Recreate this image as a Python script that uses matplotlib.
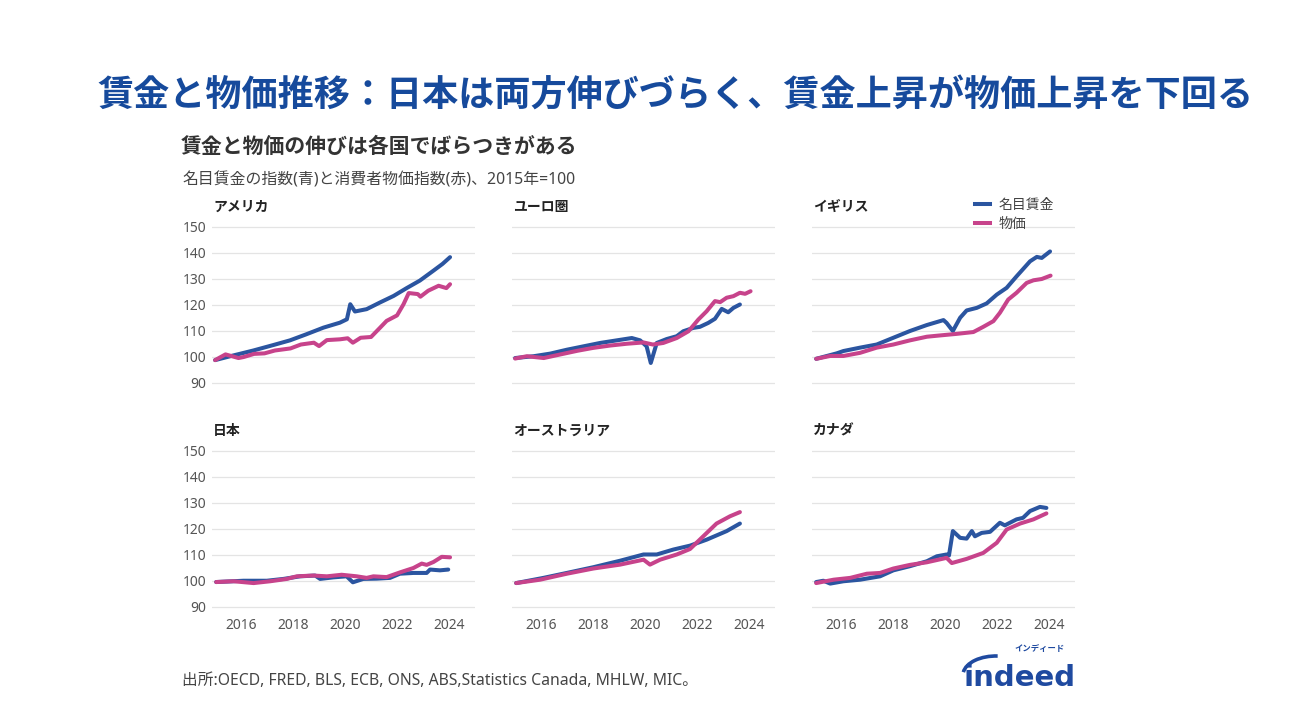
import matplotlib
matplotlib.use('Agg')
import matplotlib.pyplot as plt
from matplotlib.patches import Arc
from matplotlib.lines import Line2D

plt.rcParams['font.family'] = ['Noto Sans', 'Noto Sans CJK JP', 'DejaVu Sans']

WAGE_COLOR = '#2b55a0'
PRICE_COLOR = '#c7438b'
TITLE_COLOR = '#164a9c'
LOGO_COLOR = '#1f4aa0'

countries = ['アメリカ', 'ユーロ圏', 'イギリス', '日本', 'オーストラリア', 'カナダ']

# (year, index) pairs, 2015 = 100
us_wage = [(2015.0, 98.8), (2015.7, 100.6), (2016.47, 102.5), (2017.24, 104.6), (2017.88, 106.4),
           (2018.5, 108.7), (2019.17, 111.3), (2019.8, 113.2), (2020.07, 114.5), (2020.2, 120.3),
           (2020.38, 117.5), (2020.83, 118.4), (2021.35, 121.0), (2021.87, 123.5), (2022.37, 126.5),
           (2022.88, 129.4), (2023.4, 133.2), (2023.75, 135.8), (2024.04, 138.4)]
us_price = [(2015.0, 98.8), (2015.4, 101.0), (2015.9, 99.6), (2016.1, 100.0), (2016.5, 101.2),
            (2016.9, 101.4), (2017.3, 102.5), (2017.9, 103.3), (2018.3, 104.8), (2018.8, 105.5),
            (2019.0, 104.2), (2019.3, 106.5), (2019.8, 106.8), (2020.1, 107.2), (2020.3, 105.5),
            (2020.6, 107.4), (2021.0, 107.7), (2021.35, 111.3), (2021.6, 113.9), (2022.0, 116.0),
            (2022.25, 120.3), (2022.45, 124.6), (2022.8, 124.2), (2022.9, 123.2), (2023.2, 125.5),
            (2023.6, 127.4), (2023.9, 126.5), (2024.04, 128.0)]

eu_wage = [(2015.0, 99.6), (2015.71, 100.3), (2016.35, 101.3), (2016.99, 102.8), (2017.63, 104.1),
           (2018.27, 105.4), (2018.91, 106.4), (2019.49, 107.3), (2019.81, 106.4), (2020.06, 104.1),
           (2020.22, 97.7), (2020.45, 105.4), (2020.83, 106.9), (2021.22, 108.0), (2021.47, 109.9),
           (2021.86, 111.2), (2022.11, 111.6), (2022.43, 113.1), (2022.69, 114.7), (2022.95, 118.5),
           (2023.2, 117.2), (2023.4, 118.9), (2023.65, 120.2)]
eu_price = [(2015.0, 99.4), (2015.45, 100.3), (2016.1, 99.6), (2016.7, 100.9), (2017.4, 102.4),
            (2018.0, 103.5), (2018.65, 104.4), (2019.3, 105.1), (2019.94, 105.6), (2020.3, 104.8),
            (2020.7, 105.4), (2021.22, 107.3), (2021.67, 109.9), (2022.05, 114.4), (2022.37, 117.6),
            (2022.69, 121.5), (2022.89, 121.1), (2023.14, 122.8), (2023.4, 123.4), (2023.65, 124.7),
            (2023.85, 124.3), (2024.06, 125.3)]

uk_wage = [(2015.04, 99.3), (2015.83, 101.4), (2016.09, 102.3), (2016.73, 103.6), (2017.37, 104.8),
           (2018.01, 107.4), (2018.65, 110.0), (2019.3, 112.3), (2019.94, 114.2), (2020.06, 113.1),
           (2020.3, 110.0), (2020.58, 115.1), (2020.83, 117.9), (2021.22, 118.9), (2021.6, 120.6),
           (2021.99, 124.0), (2022.37, 126.6), (2022.75, 131.0), (2023.27, 136.8), (2023.53, 138.5),
           (2023.72, 138.1), (2024.04, 140.6)]
uk_price = [(2015.04, 99.3), (2015.58, 100.4), (2016.09, 100.4), (2016.73, 101.6), (2017.37, 103.6),
            (2018.01, 104.8), (2018.65, 106.4), (2019.3, 107.8), (2019.81, 108.3), (2020.45, 108.9),
            (2021.09, 109.6), (2021.47, 111.6), (2021.86, 113.8), (2022.11, 117.0), (2022.43, 122.1),
            (2022.75, 124.7), (2023.14, 128.5), (2023.4, 129.5), (2023.72, 130.0), (2024.06, 131.3)]

jp_wage = [(2015.04, 99.6), (2016.09, 100.1), (2016.99, 100.1), (2017.63, 100.8), (2018.27, 101.8),
           (2018.85, 102.1), (2019.04, 100.8), (2019.55, 101.4), (2020.06, 101.8), (2020.3, 99.5),
           (2020.7, 100.8), (2021.22, 100.9), (2021.73, 101.2), (2022.11, 102.8), (2022.63, 103.1),
           (2023.14, 103.1), (2023.27, 104.4), (2023.65, 104.1), (2023.97, 104.4)]
jp_price = [(2015.04, 99.6), (2015.71, 99.9), (2016.48, 99.2), (2017.12, 99.9), (2017.76, 100.8),
            (2018.14, 101.8), (2018.78, 102.1), (2019.3, 101.8), (2019.87, 102.4), (2020.45, 101.8),
            (2020.83, 101.2), (2021.09, 101.8), (2021.6, 101.5), (2022.11, 103.3), (2022.63, 105.0),
            (2022.95, 106.7), (2023.14, 106.2), (2023.4, 107.3), (2023.72, 109.3), (2024.04, 109.1)]

au_wage = [(2015.04, 99.2), (2016.09, 101.2), (2016.99, 103.1), (2018.01, 105.3), (2019.04, 107.8),
           (2019.94, 110.2), (2020.45, 110.2), (2021.09, 112.1), (2021.73, 113.6), (2022.37, 115.9),
           (2023.14, 119.2), (2023.65, 122.1)]
au_price = [(2015.04, 99.2), (2015.96, 100.5), (2016.99, 102.8), (2018.01, 104.8), (2019.04, 106.3),
            (2019.94, 108.2), (2020.19, 106.3), (2020.58, 108.2), (2021.22, 110.2), (2021.73, 112.3),
            (2022.24, 117.2), (2022.75, 122.1), (2023.27, 124.9), (2023.65, 126.5)]

ca_wage = [(2015.04, 99.6), (2015.32, 100.1), (2015.58, 99.0), (2016.09, 99.9), (2016.73, 100.5),
           (2017.5, 101.8), (2018.01, 104.1), (2018.65, 105.7), (2019.3, 107.6), (2019.68, 109.5),
           (2020.06, 110.2), (2020.15, 109.8), (2020.3, 119.2), (2020.58, 116.6), (2020.83, 116.3),
           (2021.03, 119.2), (2021.15, 117.2), (2021.41, 118.5), (2021.73, 118.9), (2022.11, 122.4),
           (2022.3, 121.4), (2022.75, 123.7), (2023.0, 124.3), (2023.27, 126.9), (2023.65, 128.5),
           (2023.9, 128.1)]
ca_price = [(2015.04, 99.2), (2015.71, 100.5), (2016.35, 101.2), (2016.99, 102.8), (2017.5, 103.1),
            (2018.01, 104.8), (2018.65, 106.2), (2019.3, 107.2), (2020.06, 108.9), (2020.26, 106.9),
            (2020.83, 108.5), (2021.47, 110.8), (2021.99, 114.7), (2022.37, 119.8), (2022.89, 122.1),
            (2023.4, 123.7), (2023.9, 126.0)]

wages = [us_wage, eu_wage, uk_wage, jp_wage, au_wage, ca_wage]
prices = [us_price, eu_price, uk_price, jp_price, au_price, ca_price]

y_ticks = [90, 100, 110, 120, 130, 140, 150]
x_ticks = [2016, 2018, 2020, 2022, 2024]


def draw_panel(ax, name, wage, price, show_y, show_x):
    for g in y_ticks:
        ax.axhline(g, color='#e4e4e4', lw=0.9, zorder=0)
    wx, wy = zip(*wage)
    px, py = zip(*price)
    ax.plot(wx, wy, color=WAGE_COLOR, lw=2.9, solid_capstyle='round', solid_joinstyle='round')
    ax.plot(px, py, color=PRICE_COLOR, lw=2.9, solid_capstyle='round', solid_joinstyle='round')
    ax.set_xlim(2014.88, 2025.0)
    ax.set_ylim(89, 151)
    ax.set_yticks(y_ticks)
    ax.set_xticks(x_ticks)
    ax.tick_params(length=0, labelsize=10, labelcolor='#555555')
    ax.tick_params(axis='y', pad=4)
    ax.tick_params(axis='x', pad=6)
    if not show_y:
        ax.set_yticklabels([])
    if not show_x:
        ax.set_xticklabels([])
    for s in ax.spines.values():
        s.set_visible(False)
    ax.set_title(name, loc='left', fontsize=10, fontweight='bold', color='#222222', pad=10, x=0.005)


def main():
    W, H = 1295, 723
    fig = plt.figure(figsize=(W / 100, H / 100), dpi=100)

    lefts = [212, 512, 812]
    tops = [224.4, 448.4]
    w, h = 263, 161.2
    for i, name in enumerate(countries):
        r, c = divmod(i, 3)
        ax = fig.add_axes([lefts[c] / W, 1 - (tops[r] + h) / H, w / W, h / H])
        draw_panel(ax, name, wages[i], prices[i], c == 0, r == 1)

    # overlay in pixel coordinates for titles, notes and logo
    ov = fig.add_axes([0, 0, 1, 1])
    ov.set_xlim(0, W)
    ov.set_ylim(H, 0)
    ov.axis('off')

    ov.text(97, 98, '賃金と物価推移：日本は両方伸びづらく、賃金上昇が物価上昇を下回る',
            fontsize=26, fontweight='bold', color=TITLE_COLOR, va='center', ha='left')
    ov.text(181, 147, '賃金と物価の伸びは各国でばらつきがある',
            fontsize=15, fontweight='bold', color='#333333', va='center', ha='left')
    ov.text(182, 180, '名目賃金の指数(青)と消費者物価指数(赤)、2015年=100',
            fontsize=11.4, color='#444444', va='center', ha='left')
    ov.text(182, 681, '出所:OECD, FRED, BLS, ECB, ONS, ABS,Statistics Canada, MHLW, MIC。',
            fontsize=11.3, color='#444444', va='center', ha='left')

    handles = [Line2D([], [], color=WAGE_COLOR, lw=2.9), Line2D([], [], color=PRICE_COLOR, lw=2.9)]
    fig.legend(handles, ['名目賃金', '物価'], loc='upper left', bbox_to_anchor=(962 / W, 1 - 185 / H),
               frameon=False, fontsize=10, handlelength=1.15, handletextpad=0.6, labelspacing=0.35,
               labelcolor='#444444')

    # logo
    ov.text(963, 686, 'indeed', fontsize=21, fontweight='bold', color=LOGO_COLOR,
            ha='left', va='baseline', family=['DejaVu Sans'])
    ov.text(1040, 648, 'インディード', fontsize=6, fontweight='bold', color=LOGO_COLOR, ha='center', va='center')
    ov.add_patch(Arc((996, 675), 66, 38, theta1=185, theta2=275, color=LOGO_COLOR, lw=2.6))

    fig.savefig('out.png', dpi=100)


if __name__ == '__main__':
    main()
